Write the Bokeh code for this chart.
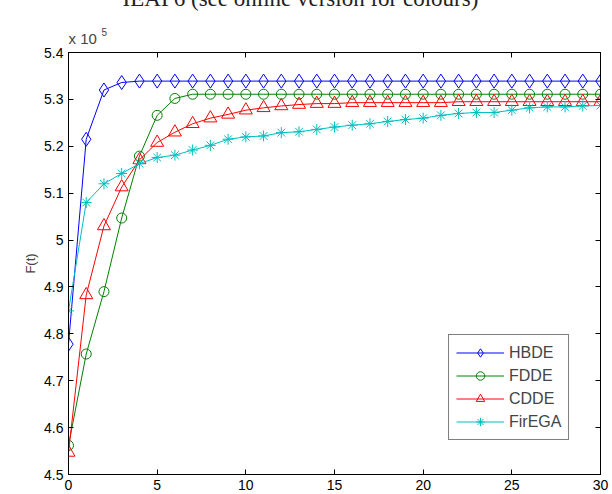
from bokeh.plotting import figure
from bokeh.models import LinearAxis, FixedTicker, Range1d, Legend, LegendItem, Label
from bokeh.embed import file_html
from bokeh.resources import INLINE

# ---- data (F(t) values) ----
t = list(range(31))
hbde = [477800, 521500, 532000, 533600] + [533900] * 27
fdde = [456200, 475700, 489000, 504700, 517900, 526600, 530200] + [531100] * 24
cdde = [454700, 488300, 503000, 511300, 517100, 520800, 523000, 524800, 526000,
        526800, 527700, 528200, 528600, 528900, 529100, 529100, 529300, 529300,
        529300, 529300, 529300, 529300, 529500, 529500, 529500, 529500, 529500,
        529500, 529500, 529500, 529500]
firega = [484900, 508000, 512000, 514200, 516300, 517600, 518100, 519200, 520200,
          521500, 522000, 522200, 522900, 523100, 523600, 524100, 524500, 524800,
          525300, 525700, 526000, 526600, 527000, 527200, 527200, 527700, 528200,
          528400, 528400, 528600, 528700]
series_names = ["HBDE", "FDDE", "CDDE", "FirEGA"]
y_ticks = [450000, 460000, 470000, 480000, 490000, 500000, 510000, 520000, 530000, 540000]
y_tick_labels = ["4.5", "4.6", "4.7", "4.8", "4.9", "5", "5.1", "5.2", "5.3", "5.4"]
x_ticks = [0, 5, 10, 15, 20, 25, 30]

FONT = "Liberation Sans"

p = figure(width=612, height=494, output_backend="svg", toolbar_location=None,
           x_range=Range1d(0, 30), y_range=Range1d(450000, 540000),
           min_border_left=68, min_border_right=12, min_border_top=52, min_border_bottom=20,
           x_axis_location=None, y_axis_location=None)
p.grid.visible = False
p.outline_line_color = "black"
p.outline_line_width = 1
p.background_fill_color = "white"
p.border_fill_color = "white"

def style_axis(ax, show_labels):
    ax.major_tick_in = 5
    ax.major_tick_out = 0
    ax.minor_tick_line_color = None
    ax.axis_line_color = "black"
    ax.major_tick_line_color = "black"
    ax.major_label_text_font = FONT
    ax.major_label_text_font_size = "14px"
    ax.major_label_text_color = "black"
    if not show_labels:
        ax.major_label_text_alpha = 0

left = LinearAxis(ticker=FixedTicker(ticks=y_ticks),
                  major_label_overrides={v: s for v, s in zip(y_ticks, y_tick_labels)})
style_axis(left, True)
left.major_label_standoff = 5
left.axis_label = "F(t)"
left.axis_label_text_font = FONT
left.axis_label_text_font_size = "13px"
left.axis_label_text_font_style = "normal"
left.axis_label_standoff = 3
p.add_layout(left, "left")

right = LinearAxis(ticker=FixedTicker(ticks=y_ticks),
                   major_label_overrides={v: "" for v in y_ticks})
style_axis(right, False)
p.add_layout(right, "right")

bottom = LinearAxis(ticker=FixedTicker(ticks=x_ticks))
style_axis(bottom, True)
bottom.major_label_standoff = 5
p.add_layout(bottom, "below")

top = LinearAxis(ticker=FixedTicker(ticks=x_ticks),
                 major_label_overrides={v: "" for v in x_ticks})
style_axis(top, False)
p.add_layout(top, "above")

colors = ["#0000FF", "#008000", "#FF0000", "#00BFBF"]
markers = ["diamond", "circle", "triangle", "asterisk"]
sizes = [14, 10, 13, 11]
data = [hbde, fdde, cdde, firega]

items = []
for name, ys, c, m, s in zip(series_names, data, colors, markers, sizes):
    ln = p.line(t, ys, line_color=c, line_width=1)
    mk = p.scatter(t, ys, marker=m, size=s, line_color=c, fill_alpha=0, line_width=1)
    items.append(LegendItem(label=name, renderers=[ln, mk]))

legend = Legend(items=items, location=(380, 34))
legend.label_text_font = FONT
legend.label_text_font_size = "16px"
legend.glyph_width = 48
legend.glyph_height = 21
legend.label_height = 21
legend.spacing = 2
legend.padding = 7
legend.margin = 0
legend.label_standoff = 5
legend.border_line_color = "black"
legend.border_line_width = 1
legend.background_fill_alpha = 1
p.add_layout(legend, "center")

# scale factor label and clipped caption, placed in the top panel (canvas units)
p.add_layout(Label(x=68, y=38, x_units="canvas", y_units="canvas", text="x 10",
                   text_font=FONT, text_font_size="15px", text_baseline="middle"), "above")
p.add_layout(Label(x=101, y=31, x_units="canvas", y_units="canvas", text="5",
                   text_font=FONT, text_font_size="10px", text_baseline="middle"), "above")
p.add_layout(Label(x=300, y=-2, x_units="canvas", y_units="canvas",
                   text="IEAP6 (see online version for colours)",
                   text_font="Liberation Serif", text_font_size="23px",
                   text_align="center", text_baseline="alphabetic", text_color="#222222"), "above")

open("out.html", "w").write(file_html(p, INLINE))
